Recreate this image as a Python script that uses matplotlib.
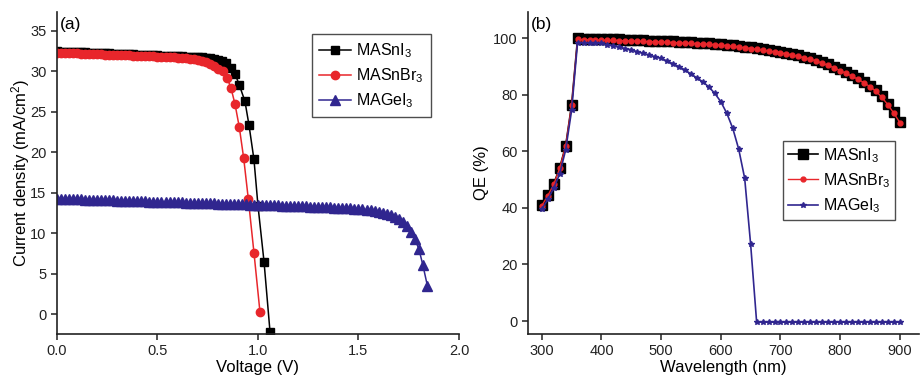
import matplotlib
matplotlib.use("Agg")
import matplotlib.pyplot as plt

plt.rcParams['font.family'] = ['Liberation Sans', 'DejaVu Sans']
plt.rcParams['mathtext.fontset'] = 'custom'
plt.rcParams['mathtext.rm'] = 'Liberation Sans'
plt.rcParams['mathtext.it'] = 'Liberation Sans'
plt.rcParams['mathtext.default'] = 'regular'

# ---------------- data: (a) J-V ----------------
labels = ['MASnI$_3$', 'MASnBr$_3$', 'MAGeI$_3$']

v_sni = [0.00, 0.02, 0.04, 0.06, 0.08, 0.10, 0.12, 0.14, 0.16, 0.18, 0.20, 0.22, 0.24, 0.26, 0.28,
         0.30, 0.32, 0.34, 0.36, 0.38, 0.40, 0.42, 0.44, 0.46, 0.48, 0.50, 0.52, 0.54, 0.56, 0.58,
         0.60, 0.62, 0.64, 0.66, 0.68, 0.70, 0.72, 0.74, 0.76, 0.78, 0.80, 0.82, 0.84, 0.866, 0.887,
         0.907, 0.935, 0.955, 0.98, 1.00, 1.03, 1.06]
j_sni = [32.45, 32.43, 32.41, 32.39, 32.37, 32.35, 32.33, 32.31, 32.29, 32.27, 32.25, 32.23, 32.21, 32.19, 32.17,
         32.15, 32.13, 32.11, 32.09, 32.07, 32.05, 32.03, 32.01, 31.99, 31.97, 31.95, 31.93, 31.91, 31.89, 31.87,
         31.85, 31.83, 31.81, 31.79, 31.76, 31.73, 31.70, 31.66, 31.61, 31.54, 31.44, 31.28, 31.00, 30.35, 29.6,
         28.3, 26.3, 23.4, 19.1, 13.4, 6.5, -2.2]

v_snbr = [0.00, 0.02, 0.04, 0.06, 0.08, 0.10, 0.12, 0.14, 0.16, 0.18, 0.20, 0.22, 0.24, 0.26, 0.28,
          0.30, 0.32, 0.34, 0.36, 0.38, 0.40, 0.42, 0.44, 0.46, 0.48, 0.50, 0.52, 0.54, 0.56, 0.58,
          0.60, 0.62, 0.64, 0.66, 0.68, 0.70, 0.72, 0.74, 0.76, 0.78, 0.80, 0.825, 0.846, 0.866,
          0.886, 0.907, 0.929, 0.952, 0.98, 1.01]
j_snbr = [32.30, 32.28, 32.26, 32.24, 32.22, 32.20, 32.18, 32.16, 32.14, 32.12, 32.10, 32.08, 32.06, 32.04, 32.02,
          32.00, 31.98, 31.96, 31.94, 31.92, 31.90, 31.88, 31.86, 31.84, 31.82, 31.80, 31.78, 31.76, 31.73, 31.70,
          31.67, 31.63, 31.58, 31.52, 31.45, 31.36, 31.24, 31.08, 30.88, 30.60, 30.25, 30.0, 29.2, 27.9,
          25.9, 23.1, 19.25, 14.2, 7.6, 0.25]

v_gei = [0.00, 0.02, 0.04, 0.06, 0.08, 0.10, 0.12, 0.14, 0.16, 0.18, 0.20, 0.22, 0.24, 0.26, 0.28,
         0.30, 0.32, 0.34, 0.36, 0.38, 0.40, 0.42, 0.44, 0.46, 0.48, 0.50, 0.52, 0.54, 0.56, 0.58,
         0.60, 0.62, 0.64, 0.66, 0.68, 0.70, 0.72, 0.74, 0.76, 0.78, 0.80, 0.82, 0.84, 0.86, 0.88,
         0.90, 0.92, 0.94, 0.96, 0.98, 1.00, 1.02, 1.04, 1.06, 1.08, 1.10, 1.12, 1.14, 1.16, 1.18,
         1.20, 1.22, 1.24, 1.26, 1.28, 1.30, 1.32, 1.34, 1.36, 1.38, 1.40, 1.42, 1.44, 1.46, 1.48,
         1.50, 1.52, 1.54, 1.56, 1.58, 1.60, 1.62, 1.64, 1.66, 1.68, 1.70, 1.72, 1.74, 1.76, 1.78,
         1.80, 1.82, 1.843]
j_gei = [14.25, 14.24, 14.22, 14.21, 14.19, 14.18, 14.16, 14.15, 14.13, 14.12, 14.10, 14.09, 14.07, 14.06, 14.04,
         14.03, 14.01, 14.00, 13.98, 13.97, 13.95, 13.94, 13.92, 13.91, 13.89, 13.88, 13.86, 13.85, 13.83, 13.82,
         13.80, 13.79, 13.77, 13.76, 13.74, 13.73, 13.71, 13.70, 13.68, 13.67, 13.65, 13.64, 13.62, 13.61, 13.59,
         13.58, 13.56, 13.55, 13.53, 13.52, 13.50, 13.48, 13.47, 13.45, 13.43, 13.42, 13.40, 13.38, 13.37, 13.35,
         13.33, 13.31, 13.30, 13.28, 13.26, 13.24, 13.22, 13.20, 13.18, 13.16, 13.14, 13.11, 13.08, 13.05, 13.02,
         12.98, 12.93, 12.88, 12.82, 12.74, 12.65, 12.54, 12.40, 12.22, 12.00, 11.72, 11.35, 10.85, 10.20, 9.25,
         8.10, 6.10, 3.50]

# ---------------- data: (b) QE ----------------
wl = [300, 310, 320, 330, 340, 350, 360, 370, 380, 390, 400, 410, 420, 430, 440, 450, 460, 470, 480, 490,
      500, 510, 520, 530, 540, 550, 560, 570, 580, 590, 600, 610, 620, 630, 640, 650, 660, 670, 680, 690,
      700, 710, 720, 730, 740, 750, 760, 770, 780, 790, 800, 810, 820, 830, 840, 850, 860, 870, 880, 890, 900]
qe_sni = [41.0, 44.5, 48.5, 54.2, 62.0, 76.5, 100.0, 99.9, 99.9, 99.8, 99.8, 99.7, 99.7, 99.6, 99.5, 99.5,
          99.4, 99.3, 99.2, 99.2, 99.1, 99.0, 98.9, 98.8, 98.7, 98.6, 98.5, 98.4, 98.3, 98.1, 98.0, 97.8,
          97.6, 97.3, 97.1, 96.8, 96.5, 96.2, 95.9, 95.6, 95.3, 94.9, 94.5, 94.0, 93.5, 93.0, 92.4, 91.6,
          90.8, 90.0, 89.0, 88.0, 87.0, 85.9, 84.7, 83.3, 81.7, 79.5, 76.9, 73.9, 70.5]
qe_snbr = [40.8, 44.3, 48.3, 54.0, 61.8, 76.3, 99.6, 99.5, 99.5, 99.4, 99.4, 99.3, 99.3, 99.2, 99.1, 99.1,
           99.0, 98.9, 98.8, 98.8, 98.7, 98.6, 98.5, 98.4, 98.3, 98.2, 98.1, 98.0, 97.9, 97.7, 97.6, 97.4,
           97.2, 96.9, 96.7, 96.4, 96.1, 95.8, 95.5, 95.2, 94.9, 94.5, 94.1, 93.6, 93.1, 92.6, 92.0, 91.2,
           90.4, 89.6, 88.6, 87.6, 86.6, 85.5, 84.3, 82.9, 81.3, 79.1, 76.5, 73.5, 70.2]
qe_gei = [39.5, 43.0, 47.0, 52.0, 60.5, 74.5, 98.5, 98.4, 98.3, 98.2, 98.2, 97.8, 97.4, 96.9, 96.4, 95.9,
          95.3, 94.7, 94.1, 93.5, 92.9, 92.0, 91.0, 90.0, 88.8, 87.4, 86.0, 84.6, 82.8, 80.5, 77.6, 73.5,
          68.2, 60.8, 50.5, 27.1, -0.3, -0.4, -0.4, -0.4, -0.4, -0.4, -0.4, -0.4, -0.4, -0.4, -0.4, -0.4,
          -0.4, -0.4, -0.4, -0.4, -0.4, -0.4, -0.4, -0.4, -0.4, -0.4, -0.4, -0.4, -0.4]

BLACK = '#000000'
RED = '#e8262b'
BLUE = '#30268f'

fig = plt.figure(figsize=(9.22, 3.77), dpi=100)
axa = fig.add_axes([0.0618, 0.114, 0.436, 0.854])
axb = fig.add_axes([0.5727, 0.114, 0.424, 0.854])

for ax in (axa, axb):
    for s in ('top', 'right'):
        ax.spines[s].set_visible(False)
    for s in ('left', 'bottom'):
        ax.spines[s].set_linewidth(1.2)
        ax.spines[s].set_color('#222222')
    ax.tick_params(direction='out', length=4, width=1.1, labelsize=10.5, colors='#222222')

# (a)
axa.plot(v_sni, j_sni, '-s', color=BLACK, ms=5.5, lw=1.1, label=labels[0])
axa.plot(v_snbr, j_snbr, '-o', color=RED, ms=6, lw=1.1, label=labels[1])
axa.plot(v_gei, j_gei, '-^', color=BLUE, ms=6.5, lw=1.1, label=labels[2])
axa.set_xlim(0, 2.0)
axa.set_ylim(-2.45, 37.3)
axa.set_xticks([0.0, 0.5, 1.0, 1.5, 2.0])
axa.set_yticks([0, 5, 10, 15, 20, 25, 30, 35])
axa.set_xlabel('Voltage (V)', fontsize=12, labelpad=1)
axa.set_ylabel('Current density (mA/cm$^2$)', fontsize=12, labelpad=-1)
axa.text(0.008, 0.985, '(a)', transform=axa.transAxes, fontsize=12.5, va='top', ha='left')
lga = axa.legend(loc='upper left', bbox_to_anchor=(0.635, 0.932), fontsize=11.5, frameon=True,
                 fancybox=False, edgecolor='#222222', handlelength=2.0, handletextpad=0.3,
                 borderpad=0.45, labelspacing=0.4, borderaxespad=0)
lga.get_frame().set_linewidth(1.0)

# (b)
axb.plot(wl, qe_sni, '-s', color=BLACK, ms=6.5, lw=1.2, label=labels[0])
axb.plot(wl, qe_snbr, '-o', color=RED, ms=3.5, lw=1.0, label=labels[1])
axb.plot(wl, qe_gei, '-*', color=BLUE, ms=4, lw=1.2, label=labels[2])
axb.set_xlim(277, 932)
axb.set_ylim(-4.6, 109.3)
axb.set_xticks([300, 400, 500, 600, 700, 800, 900])
axb.set_yticks([0, 20, 40, 60, 80, 100])
axb.set_xlabel('Wavelength (nm)', fontsize=12, labelpad=1)
axb.set_ylabel('QE (%)', fontsize=12, labelpad=3)
axb.text(0.008, 0.985, '(b)', transform=axb.transAxes, fontsize=12.5, va='top', ha='left')
lgb = axb.legend(loc='upper left', bbox_to_anchor=(0.652, 0.599), fontsize=11.5, frameon=True,
                 fancybox=False, edgecolor='#222222', handlelength=1.9, handletextpad=0.3,
                 borderpad=0.3, labelspacing=0.4, borderaxespad=0)
lgb.get_frame().set_linewidth(1.0)

fig.savefig('out.png', dpi=100)
